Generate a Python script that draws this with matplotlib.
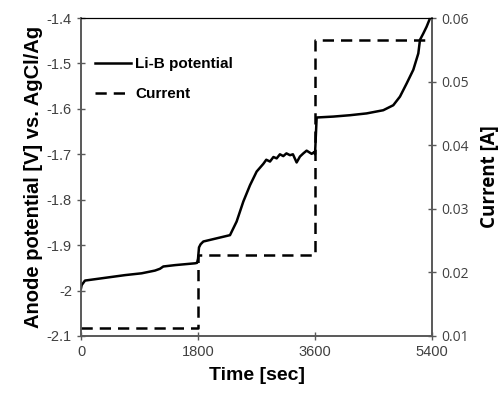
import matplotlib
matplotlib.use("Agg")
import matplotlib.pyplot as plt

# potential (Li-B)
t_pot = [0, 10, 61, 420, 677, 933, 1138, 1215, 1266, 1446, 1753, 1785, 1800, 1815, 1840,
         1882, 2087, 2292, 2394, 2497, 2600, 2702, 2805, 2850, 2907, 2960, 3010, 3060,
         3112, 3160, 3215, 3260, 3317, 3368, 3420, 3471, 3548, 3590, 3600, 3625, 3881,
         4137, 4394, 4650, 4804, 4907, 5010, 5112, 5189, 5215, 5266, 5317, 5368, 5400]
v_pot = [-1.995, -1.988, -1.978, -1.971, -1.966, -1.962, -1.956, -1.952, -1.947, -1.944,
         -1.940, -1.939, -1.930, -1.905, -1.898, -1.892, -1.885, -1.878, -1.848, -1.804,
         -1.768, -1.738, -1.721, -1.712, -1.716, -1.706, -1.709, -1.700, -1.704, -1.698,
         -1.702, -1.700, -1.718, -1.705, -1.698, -1.692, -1.699, -1.695, -1.700, -1.619,
         -1.617, -1.614, -1.610, -1.603, -1.592, -1.573, -1.544, -1.514, -1.478, -1.448,
         -1.434, -1.419, -1.401, -1.39]

# current steps
t_cur = [0, 1800, 1800, 3600, 3600, 5400]
i_cur = [0.0113, 0.0113, 0.0227, 0.0227, 0.0565, 0.0565]

grey = "#595959"

fig = plt.figure(figsize=(5.02, 3.95), dpi=100)
ax = fig.add_axes([0.1614, 0.1494, 0.6992, 0.805])
ax2 = ax.twinx()

l1, = ax.plot(t_pot, v_pot, color="black", lw=1.8, label="Li-B potential", zorder=3)
l2, = ax2.plot(t_cur, i_cur, color="black", lw=1.8, dashes=(4.5, 2.8), label="Current")

ax.set_xlim(0, 5400)
ax.set_ylim(-2.1, -1.4)
ax2.set_ylim(0.01, 0.06)
ax.set_xticks([0, 1800, 3600, 5400])
ax.set_yticks([-2.1, -2.0, -1.9, -1.8, -1.7, -1.6, -1.5, -1.4])
ax.set_yticklabels(["-2.1", "-2", "-1.9", "-1.8", "-1.7", "-1.6", "-1.5", "-1.4"])
ax2.set_yticks([0.01, 0.02, 0.03, 0.04, 0.05, 0.06])

arial = "Liberation Sans"
for lab in ax.get_xticklabels() + ax.get_yticklabels():
    lab.set_family(arial)
    lab.set_fontsize(10.5)
    lab.set_color("#404040")
for lab in ax2.get_yticklabels():
    lab.set_family("Open Sans")
    lab.set_fontsize(10)
    lab.set_color("#404040")

ax.tick_params(direction="inout", length=6, width=1, color=grey)
ax2.tick_params(direction="inout", length=6, width=1, color=grey)

for a in (ax, ax2):
    a.spines["left"].set_color(grey)
    a.spines["bottom"].set_color(grey)
    a.spines["right"].set_color(grey)
    a.spines["left"].set_linewidth(1.2)
    a.spines["bottom"].set_linewidth(1.2)
    a.spines["right"].set_linewidth(1.2)
    a.spines["top"].set_color("black")
    a.spines["top"].set_linewidth(0.8)

ax.set_xlabel("Time [sec]", family=arial, fontweight="bold", fontsize=14, labelpad=6)
ax.set_ylabel("Anode potential [V] vs. AgCl/Ag", family=arial, fontweight="bold",
              fontsize=14.5, labelpad=3)
ax2.set_ylabel("Current [A]", family="Open Sans", fontweight="bold", fontsize=13.5,
               labelpad=8)

leg = ax.legend([l1, l2], ["Li-B potential", "Current"], loc="upper left",
                bbox_to_anchor=(0.0, 0.92), frameon=False, handlelength=2.4,
                handletextpad=0.25, labelspacing=1.05,
                prop={"family": arial, "weight": "bold", "size": 11})

fig.savefig("out.png", dpi=100)
